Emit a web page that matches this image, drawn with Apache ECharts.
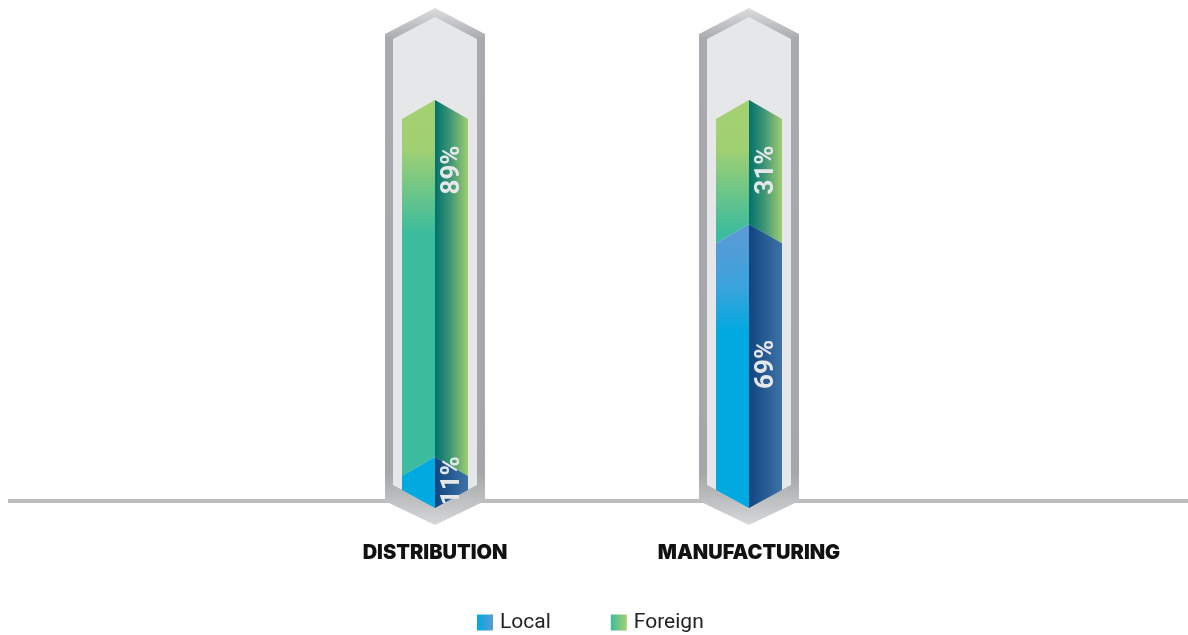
<!DOCTYPE html>
<html>
<head>
<meta charset="utf-8">
<script src="https://cdn.jsdelivr.net/npm/echarts@6/dist/echarts.min.js"></script>
<style>
  html, body { margin: 0; padding: 0; background: #ffffff; }
  #chart { width: 1188px; height: 635px; }
</style>
</head>
<body>
<div id="chart"></div>
<script>
// Share of local vs foreign, per sector (percent)
const categories = ['DISTRIBUTION', 'MANUFACTURING'];
const localShare = [11, 69];
const foreignShare = [89, 31];
const seriesNames = ['Local', 'Foreign'];

const chart = echarts.init(document.getElementById('chart'), null, { renderer: 'canvas' });

// Bar geometry (pixels)
const HALF = 33;        // half width of a bar
const RISE = 19;        // depth of the chevron on each segment edge
const BASE_UP = 11;     // bar bottom corners sit this far above the zero line
const BASE_DOWN = 7;    // bar bottom point sits this far below the zero line

const lg = (x0, y0, x1, y1, stops, global) =>
  new echarts.graphic.LinearGradient(x0, y0, x1, y1,
    stops.map(s => ({ offset: s[0], color: s[1] })), global);

const faceStops = {
  Local: {
    left: [[0, '#5c9ad5'], [0.33, '#5a9bd6'], [0.47, '#3aa3dc'], [0.58, '#00a9e0'], [1, '#00a9e0']],
    right: [[0, '#0f4681'], [1, '#3f72a6']]
  },
  Foreign: {
    left: [[0, '#a3d172'], [0.12, '#a1d072'], [0.33, '#3dbc9d'], [1, '#3cbb9e']],
    right: [[0, '#00736b'], [0.45, '#3c9476'], [1, '#a0cd70']]
  }
};

// Stacked segments: [category index, start, end, share]
const localData = categories.map((c, i) => [i, 0, localShare[i], localShare[i]]);
const foreignData = categories.map((c, i) =>
  [i, localShare[i], localShare[i] + foreignShare[i], foreignShare[i]]);
const frameData = categories.map((c, i) => [i, 0, 100]);

function renderSegment(name) {
  return function (params, api) {
    const i = api.value(0);
    const start = api.value(1);
    const end = api.value(2);
    const share = api.value(3);
    const cx = api.coord([i, 0])[0];
    const y0 = api.coord([i, 0])[1];
    const yFull = api.coord([i, 100])[1];
    const yS = api.coord([i, start])[1];
    const yE = api.coord([i, end])[1];

    const topC = yE, topSide = yE + RISE;
    let botC, botSide;
    if (start === 0) { botC = y0 + BASE_DOWN; botSide = y0 - BASE_UP; }
    else { botC = yS; botSide = yS + RISE; }

    const leftFill = lg(0, yFull, 0, y0, faceStops[name].left, true);
    const rightFill = lg(0, 0, 1, 0, faceStops[name].right, false);

    const children = [
      {
        type: 'polygon',
        shape: { points: [[cx - HALF, topSide], [cx, topC], [cx, botC], [cx - HALF, botSide]] },
        style: { fill: leftFill }
      },
      {
        type: 'polygon',
        shape: { points: [[cx, topC], [cx + HALF, topSide], [cx + HALF, botSide], [cx, botC]] },
        style: { fill: rightFill }
      }
    ];

    // Value label on the right face, reading upward; the upper share sits near the tip
    const lx = cx + 17;
    const edgeTop = topC + RISE * 17 / HALF;
    const edgeBot = start === 0 ? botC - (BASE_DOWN + BASE_UP) * 17 / HALF : botC + RISE * 17 / HALF;
    const ly = end >= 100 ? topC + 70 : (edgeTop + edgeBot) / 2 - 2;
    children.push({
      type: 'text',
      x: lx,
      y: ly,
      rotation: Math.PI / 2,
      z2: 10,
      style: {
        text: share + '%',
        x: 0, y: 0,
        align: 'center',
        verticalAlign: 'middle',
        fill: '#e6e7e8',
        font: 'bold 26px Roboto, "Liberation Sans", sans-serif'
      }
    });
    return { type: 'group', children: children };
  };
}

function renderFrame(params, api) {
  const i = api.value(0);
  const cx = api.coord([i, 0])[0];
  const y0 = api.coord([i, 0])[1];
  const yTop = api.coord([i, 100])[1];
  const W = 50, w = 42;
  const outer = [
    [cx, yTop - 92], [cx + W, yTop - 66], [cx + W, y0], [cx, y0 + 24],
    [cx - W, y0], [cx - W, yTop - 66]
  ];
  const inner = [
    [cx, yTop - 83], [cx + w, yTop - 61], [cx + w, y0 - 16], [cx, y0 + 6],
    [cx - w, y0 - 16], [cx - w, yTop - 61]
  ];
  const children = [];
  if (params.dataIndex === 0) {
    // Ground line across the chart
    children.push({
      type: 'line',
      shape: { x1: 8, y1: y0, x2: api.getWidth(), y2: y0 },
      style: { stroke: '#bcbdbf', lineWidth: 4 }
    });
  }
  children.push({
    type: 'polygon',
    shape: { points: outer },
    style: {
      fill: lg(0, yTop - 92, 0, y0 + 24,
        [[0, '#dcdddf'], [0.06, '#a9aaad'], [0.9, '#a6a7aa'], [0.95, '#bdbec0'], [1, '#d6d7d9']], true)
    }
  });
  children.push({
    type: 'polygon',
    shape: { points: inner },
    style: { fill: '#e6e7e8' }
  });
  return { type: 'group', children: children };
}

const option = {
  backgroundColor: '#ffffff',
  animation: false,
  grid: { left: 278, right: 282, top: 100, bottom: 134 },
  xAxis: {
    type: 'category',
    data: categories,
    axisLine: { show: false },
    axisTick: { show: false },
    axisLabel: {
      margin: 42,
      color: '#111111',
      fontSize: 20,
      fontWeight: 900,
      fontFamily: 'Inter, Roboto, "Liberation Sans", sans-serif'
    }
  },
  yAxis: { type: 'value', min: 0, max: 100, show: false },
  legend: {
    data: seriesNames,
    top: 612,
    left: 477,
    padding: 0,
    icon: 'rect',
    itemWidth: 16,
    itemHeight: 16,
    itemGap: 60,
    textStyle: { fontSize: 21, color: '#222222', fontFamily: 'Roboto, sans-serif', padding: [0, 0, 0, 2] }
  },
  series: [
    {
      type: 'custom',
      name: 'frame',
      silent: true,
      renderItem: renderFrame,
      data: frameData,
      encode: { x: 0, y: 2 },
      z: 1
    },
    {
      type: 'custom',
      name: seriesNames[0],
      renderItem: renderSegment('Local'),
      data: localData,
      encode: { x: 0, y: 2 },
      itemStyle: { color: lg(0, 0, 1, 0, [[0, '#00a9e0'], [1, '#5b9bd5']], false) },
      z: 4
    },
    {
      type: 'custom',
      name: seriesNames[1],
      renderItem: renderSegment('Foreign'),
      data: foreignData,
      encode: { x: 0, y: 2 },
      itemStyle: { color: lg(0, 0, 1, 0, [[0, '#3dbc9d'], [1, '#a3d172']], false) },
      z: 3
    }
  ]
};

chart.setOption(option);
</script>
</body>
</html>
